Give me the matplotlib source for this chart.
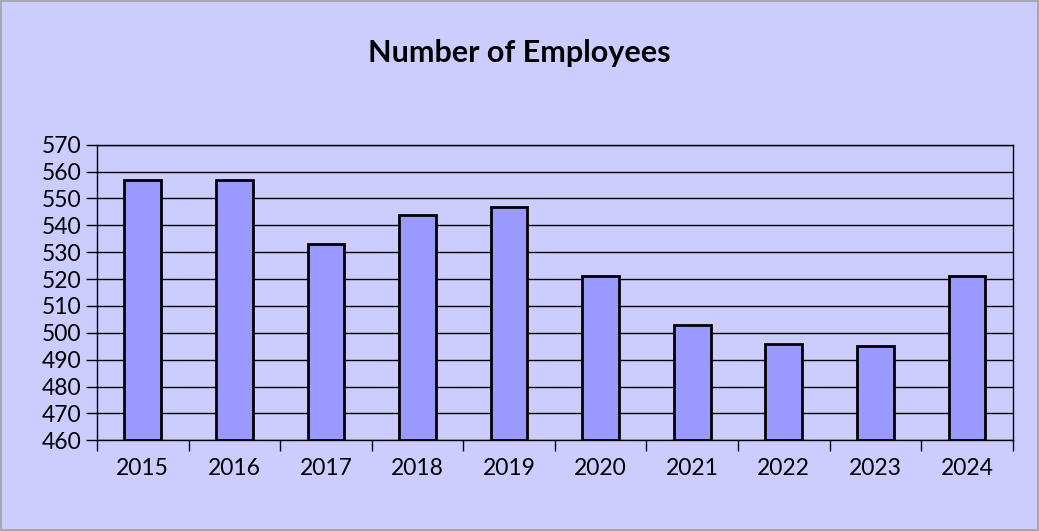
import matplotlib
matplotlib.use("Agg")
import matplotlib.pyplot as plt
import numpy as np
from matplotlib.patches import Rectangle

years = ["2015", "2016", "2017", "2018", "2019", "2020", "2021", "2022", "2023", "2024"]
employees = [557, 557, 533, 544, 547, 521, 503, 496, 495, 521]
yticks = list(range(460, 571, 10))

plt.rcParams['font.family'] = ['Lato', 'DejaVu Sans']

fig = plt.figure(figsize=(10.39, 5.31), dpi=100)
fig.patch.set_facecolor('#CCCCFF')
fig.patches.append(Rectangle((0.001, 0.001), 0.998, 0.997, transform=fig.transFigure,
                             fill=False, edgecolor='#a0a0a0', linewidth=1.2))

ax = fig.add_axes([97/1039, 1 - 440.3/531, (1012.7 - 97)/1039, (440.3 - 144.7)/531])
ax.set_facecolor('#CCCCFF')
x = np.arange(len(years))
ax.bar(x, [v - 460 for v in employees], bottom=460, width=0.4, color='#9999FF',
       edgecolor='black', linewidth=2, zorder=3)
ax.set_xlim(-0.5, len(years) - 0.5)
ax.set_ylim(460, 570)
ax.set_yticks(yticks)
ax.set_yticklabels([str(t) for t in yticks], fontsize=16.5)
ax.yaxis.grid(True, color='black', linewidth=1, zorder=0)
ax.set_axisbelow(True)
ax.set_xticks(x)
ax.set_xticklabels(years, fontsize=16.5)
ax.tick_params(axis='x', which='major', length=0, pad=13)
ax.set_xticks(np.arange(-0.5, len(years)), minor=True)
ax.tick_params(axis='x', which='minor', length=8, width=1, direction='out')
ax.tick_params(axis='y', length=8, width=1, pad=3)
for s in ax.spines.values():
    s.set_color('black')
    s.set_linewidth(1)

fig.text(0.5, 1 - 53/531, "Number of Employees", ha='center', va='center',
         fontsize=22, fontweight='bold')

fig.savefig("out.png", dpi=100, facecolor=fig.get_facecolor())
